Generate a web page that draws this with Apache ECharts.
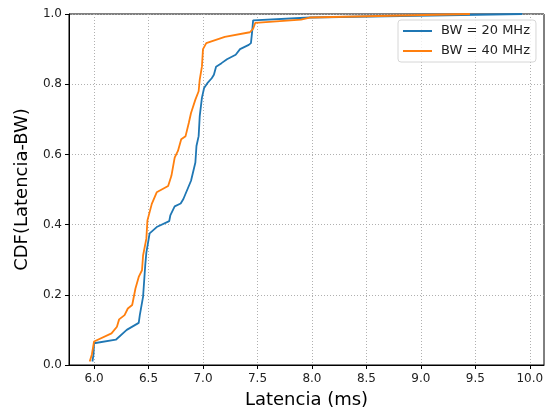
<!DOCTYPE html>
<html>
<head>
<meta charset="utf-8">
<script src="https://cdn.jsdelivr.net/npm/echarts@6/dist/echarts.min.js"></script>
<style>
html,body{margin:0;padding:0;background:#fff;}
#chart{width:550px;height:414px;}
</style>
</head>
<body>
<div id="chart"></div>
<script>
// valores (latencia en ms, CDF)
var lat20=[5.985,5.995,6.00,6.20,6.30,6.41,6.42,6.45,6.47,6.48,6.51,6.575,6.69,6.70,6.74,6.795,6.82,6.89,6.93,6.94,6.96,6.97,6.99,7.01,7.04,7.08,7.10,7.12,7.17,7.22,7.30,7.34,7.42,7.44,7.45,7.46,7.98,9.93];
var cdf20=[0.01,0.03,0.062,0.072,0.10,0.12,0.142,0.195,0.285,0.32,0.375,0.393,0.41,0.426,0.452,0.46,0.473,0.525,0.577,0.624,0.652,0.709,0.761,0.789,0.803,0.817,0.827,0.85,0.86,0.871,0.884,0.90,0.912,0.917,0.946,0.982,0.99,1.0];
var lat40=[5.96,5.98,6.00,6.16,6.21,6.23,6.28,6.31,6.35,6.38,6.41,6.44,6.45,6.48,6.49,6.53,6.575,6.68,6.71,6.74,6.77,6.80,6.84,6.87,6.89,6.93,6.96,6.97,6.99,7.00,7.03,7.20,7.43,7.46,7.48,7.90,7.98,9.45];
var cdf40=[0.01,0.03,0.067,0.09,0.109,0.13,0.142,0.161,0.171,0.218,0.251,0.27,0.312,0.36,0.412,0.459,0.492,0.51,0.539,0.591,0.61,0.643,0.652,0.69,0.718,0.756,0.78,0.813,0.85,0.90,0.917,0.935,0.948,0.958,0.975,0.984,0.99,1.0];
var xTicks=[6.0,6.5,7.0,7.5,8.0,8.5,9.0,9.5,10.0];
var names=['BW = 20 MHz','BW = 40 MHz'];

function pares(xs,ys){
    var out=[];
    for(var i=0;i<xs.length;i++){ out.push([xs[i],ys[i]]); }
    return out;
}

var fuente='DejaVu Sans';
var Chart=echarts.init(document.getElementById('chart'),null,{renderer:'canvas'});
var option={
    animation:false,
    textStyle:{fontFamily:fuente},
    grid:{left:69,right:6,top:14,bottom:47,show:true,borderColor:'#000',borderWidth:1,backgroundColor:'transparent'},
    legend:{
        data:names,
        orient:'vertical',
        left:398,
        top:20,
        padding:[4,6,4,5],
        icon:'rect',
        itemWidth:29,
        itemHeight:2,
        itemGap:6,
        borderColor:'#d6d6d6',
        borderWidth:1,
        borderRadius:3,
        backgroundColor:'rgba(255,255,255,0.8)',
        textStyle:{fontFamily:fuente,fontSize:13,lineHeight:14,color:'#222',padding:[0,0,0,4]}
    },
    xAxis:{
        type:'value',
        min:5.77,
        max:10.13,
        name:'Latencia (ms)',
        nameLocation:'middle',
        nameGap:26,
        nameTextStyle:{fontFamily:fuente,fontSize:18,color:'#000'},
        axisLine:{show:true,lineStyle:{color:'#000',width:1}},
        axisTick:{show:true,length:4,customValues:xTicks,lineStyle:{color:'#000'}},
        axisLabel:{customValues:xTicks,margin:8,fontSize:12,color:'#222',fontFamily:fuente,
            formatter:function(v){return v.toFixed(1);}},
        splitLine:{show:true,lineStyle:{color:'#b0b0b0',type:[1,2],width:1}}
    },
    yAxis:{
        type:'value',
        min:0,
        max:1,
        interval:0.2,
        name:'CDF(Latencia-BW)',
        nameLocation:'middle',
        nameGap:38,
        nameTextStyle:{fontFamily:fuente,fontSize:18,color:'#000'},
        axisLine:{show:true,lineStyle:{color:'#000',width:1}},
        axisTick:{show:true,length:4,lineStyle:{color:'#000'}},
        axisLabel:{margin:7,fontSize:12,color:'#222',fontFamily:fuente,
            formatter:function(v){return v.toFixed(1);}},
        splitLine:{show:true,lineStyle:{color:'#b0b0b0',type:[1,2],width:1}}
    },
    series:[{
        name:names[0],
        type:'line',
        symbol:'none',
        lineStyle:{color:'#1f77b4',width:1.8},
        itemStyle:{color:'#1f77b4'},
        data:pares(lat20,cdf20)
    },{
        name:names[1],
        type:'line',
        symbol:'none',
        lineStyle:{color:'#ff7f0e',width:1.8},
        itemStyle:{color:'#ff7f0e'},
        data:pares(lat40,cdf40)
    }]
};
Chart.setOption(option);
</script>
</body>
</html>
